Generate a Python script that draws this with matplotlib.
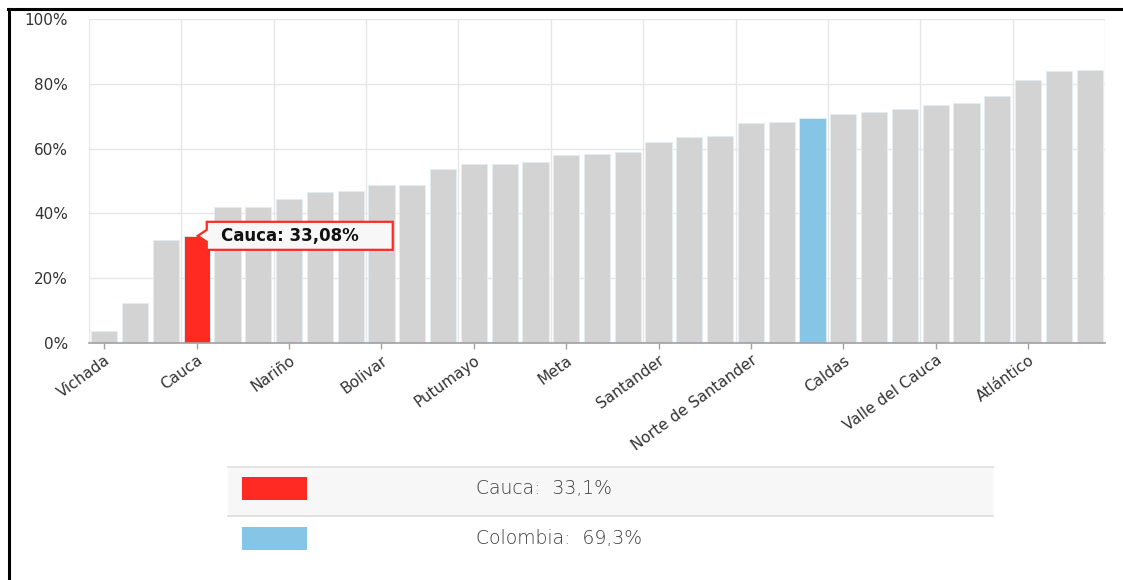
import numpy as np
import matplotlib.pyplot as plt
from matplotlib.patches import Polygon, Rectangle
from matplotlib.lines import Line2D
from matplotlib.transforms import IdentityTransform

# porcentaje por departamento, ordenado de menor a mayor
values = [3.6, 12.3, 31.9, 33.08, 41.9, 41.9, 44.5, 46.7, 47.0, 48.8, 48.8,
          53.8, 55.1, 55.4, 55.8, 58.0, 58.4, 59.0, 62.0, 63.5, 63.8,
          67.8, 68.1, 69.3, 70.7, 71.4, 72.2, 73.6, 74.0, 76.1, 81.2, 83.9, 84.2]
tick_names = ["Vichada", "Cauca", "Nariño", "Bolivar", "Putumayo", "Meta",
              "Santander", "Norte de Santander", "Caldas", "Valle del Cauca",
              "Atlántico"]
cauca_idx = 3
colombia_idx = 23
tooltip_text = "Cauca: 33,08%"
legend_labels = ["Cauca:  33,1%", "Colombia:  69,3%"]

GRAY = "#d3d3d3"
RED = "#ff2a22"
BLUE = "#86c5e6"

W, H = 1123, 580


def fx(px):
    return px / W


def fy(py):
    return 1 - py / H


fig = plt.figure(figsize=(W / 100, H / 100), dpi=100)
ax = fig.add_axes([fx(89), fy(343), fx(1105) - fx(89), fy(19) - fy(343)])

colors = [GRAY] * len(values)
colors[cauca_idx] = RED
colors[colombia_idx] = BLUE
x = np.arange(len(values))
ax.bar(x, values, width=0.85, color=colors, edgecolor="#e2eef5",
       linewidth=0.6, zorder=2)

ax.set_xlim(-0.5, len(values) - 0.5)
ax.set_ylim(0, 100)
ax.set_yticks(np.arange(0, 101, 20))
ax.set_yticklabels([f"{v}%" for v in range(0, 101, 20)])
ax.set_xticks(np.arange(0, len(values), 3))
ax.set_xticklabels(tick_names, rotation=36, ha="right", rotation_mode="anchor")
ax.set_xticks(np.arange(-0.5, len(values), 3), minor=True)

ax.tick_params(axis="y", length=0, pad=15, labelsize=11, labelcolor="#333333")
ax.tick_params(axis="x", which="major", length=4, width=1, color="#a0a0a0",
               pad=3, labelsize=11, labelcolor="#333333")
ax.tick_params(axis="x", which="minor", length=0)

ax.grid(axis="y", color="#e6e6e6", linewidth=1, zorder=0)
ax.grid(axis="x", which="minor", color="#e6e6e6", linewidth=1, zorder=0)
ax.grid(axis="x", which="major", visible=False)
for s in ["top", "right", "left"]:
    ax.spines[s].set_visible(False)
ax.spines["bottom"].set_color("#a0a0a0")
ax.spines["bottom"].set_linewidth(1.2)
ax.spines["bottom"].set_zorder(3)

# tooltip sobre la barra de Cauca
px0, py0 = ax.transData.transform((cauca_idx, values[cauca_idx]))
tip = [(10, 14), (196, 14), (196, -14), (10, -14), (10, -6), (1, 0), (10, 6)]
poly = Polygon([(px0 + a, py0 + b) for a, b in tip], closed=True,
               transform=IdentityTransform(), facecolor="#f7f7f7",
               edgecolor=RED, linewidth=1.6, zorder=5)
fig.patches.append(poly)
fig.text((px0 + 24) / W, py0 / H, tooltip_text, fontsize=12,
         fontweight="bold", color="#111111", va="center", ha="left", zorder=6)

# borde negro de la captura
fig.add_artist(Line2D([fx(8), 1], [fy(9), fy(9)], color="black", linewidth=2.2))
fig.add_artist(Line2D([fx(9), fx(9)], [0, fy(9)], color="black", linewidth=2.2))

# tabla de leyenda
fig.add_artist(Rectangle((fx(228), fy(516)), fx(993) - fx(228), fy(467) - fy(516),
                         facecolor="#f7f7f7", edgecolor="none"))
fig.add_artist(Line2D([fx(228), fx(993)], [fy(467), fy(467)], color="#e4e4e4", linewidth=1.5))
fig.add_artist(Line2D([fx(228), fx(993)], [fy(516), fy(516)], color="#dcdcdc", linewidth=1.2))
for i, (lab, col) in enumerate(zip(legend_labels, [RED, BLUE])):
    top = 477 + 50 * i
    fig.add_artist(Rectangle((fx(242), fy(top + 23)), fx(307) - fx(242), fy(top) - fy(top + 23),
                             facecolor=col, edgecolor="none"))
    fig.text(fx(476), fy(top + 12), lab, fontsize=13.5, family="DejaVu Sans",
             fontweight="light", color="#3c3c3c", va="center", ha="left")

fig.savefig("out.png", dpi=100)
